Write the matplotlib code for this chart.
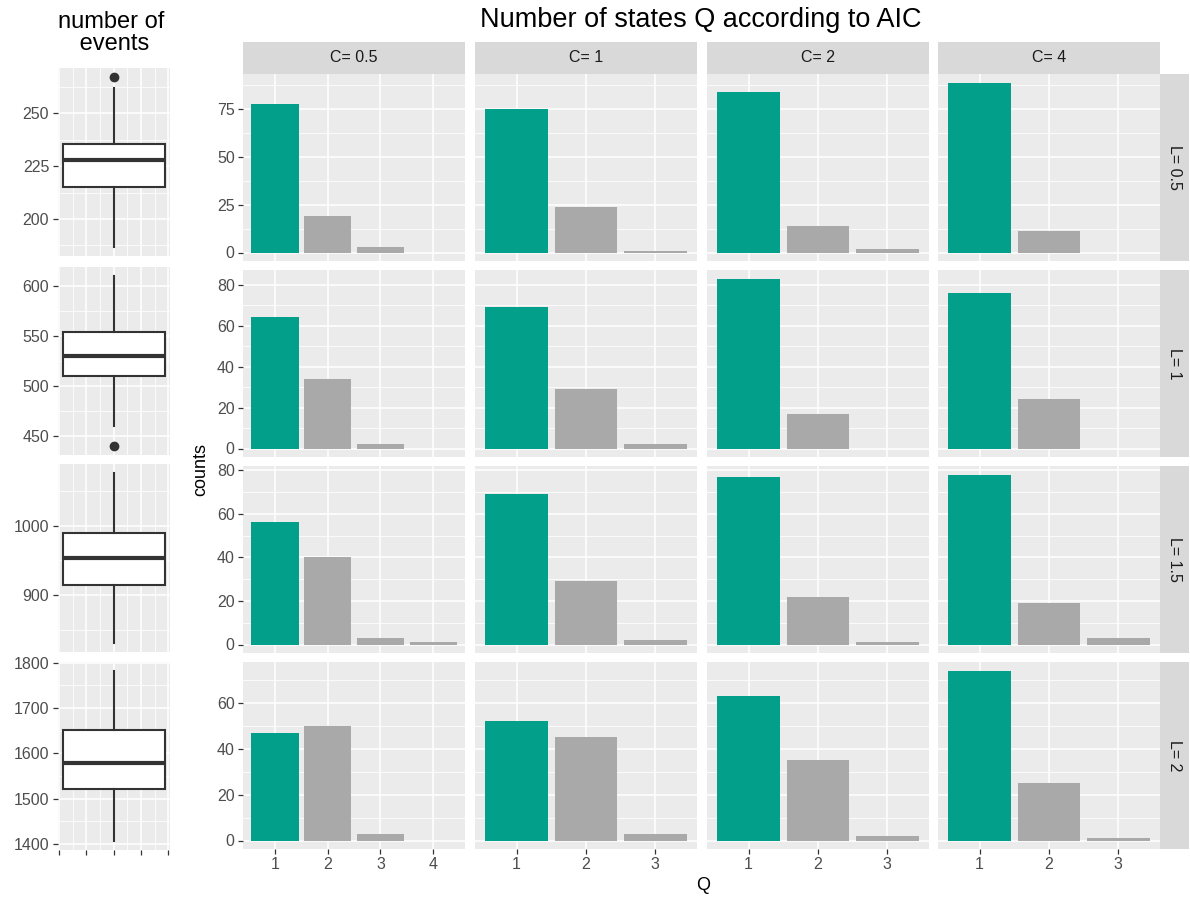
"""
AIC state counts per (L, C) facet + boxplots of number of events per L
"""
import numpy as np
import matplotlib
matplotlib.use('Agg')
import matplotlib.pyplot as plt
from matplotlib.ticker import FixedLocator, NullFormatter

plt.rcParams['font.family'] = ['Liberation Sans', 'DejaVu Sans']

# data
L_labels = ['L= 0.5', 'L= 1', 'L= 1.5', 'L= 2']
C_labels = ['C= 0.5', 'C= 1', 'C= 2', 'C= 4']
Q_levels = [[1, 2, 3, 4], [1, 2, 3], [1, 2, 3], [1, 2, 3]]

counts_L05 = [[78, 19, 3, 0], [75, 24, 1], [84, 14, 2], [89, 11, 0]]
counts_L1 = [[64, 34, 2, 0], [69, 29, 2], [83, 17, 0], [76, 24, 0]]
counts_L15 = [[56, 40, 3, 1], [69, 29, 2], [77, 22, 1], [78, 19, 3]]
counts_L2 = [[47, 50, 3, 0], [52, 45, 3], [63, 35, 2], [74, 25, 1]]
counts = [counts_L05, counts_L1, counts_L15, counts_L2]

# boxplot summaries of number of events, per L
ev_whislo = [186.5, 460, 830, 1405]
ev_q1 = [215, 510, 914.5, 1520]
ev_med = [228, 530, 953, 1579]
ev_q3 = [235.6, 553.7, 989, 1651]
ev_whishi = [262, 611, 1077, 1783]
ev_fliers = [[267.5], [439], [], []]
ev_ticks = [[200, 225, 250], [450, 500, 550, 600], [900, 1000],
            [1400, 1500, 1600, 1700, 1800]]
count_ticks = [[0, 25, 50, 75], [0, 20, 40, 60, 80], [0, 20, 40, 60, 80],
               [0, 20, 40, 60]]

TEAL = '#02A08A'
GREY = '#A9A9A9'
PANEL = '#EBEBEB'
STRIP = '#D9D9D9'
TICK_FS = 11.5

W, H = 1190, 899
fig = plt.figure(figsize=(W / 100, H / 100), dpi=100)


def add_ax(x0, y0, x1, y1):
    return fig.add_axes([x0 / W, 1 - y1 / H, (x1 - x0) / W, (y1 - y0) / H])


def style(ax):
    ax.set_facecolor(PANEL)
    for s in ax.spines.values():
        s.set_visible(False)
    ax.set_axisbelow(True)
    ax.grid(True, which='major', color='white', linewidth=1.1)
    ax.grid(True, which='minor', color='white', linewidth=0.55)
    ax.tick_params(which='major', length=3.5, width=0.9, color='#333333',
                   labelcolor='#4D4D4D', labelsize=TICK_FS, pad=2.5)
    ax.tick_params(which='minor', length=0)


def midpoints(t):
    t = np.asarray(t, float)
    step = t[1] - t[0]
    return list(np.arange(t[0] - step / 2, t[-1] + step, step))


def expand(lo, hi):
    r = hi - lo
    return lo - 0.05 * r, hi + 0.05 * r


col_x = [243, 475, 707, 938]
col_w = 222
row_y = [74, 270, 466, 662]
row_h = 187
box_rows = [(68, 256), (267, 455), (464, 652), (662, 850)]

# boxplots
for i in range(4):
    ax = add_ax(57.5, box_rows[i][0], 170, box_rows[i][1])
    style(ax)
    stats = [dict(med=ev_med[i], q1=ev_q1[i], q3=ev_q3[i], whislo=ev_whislo[i],
                  whishi=ev_whishi[i], fliers=ev_fliers[i])]
    ax.bxp(stats, positions=[0], widths=0.75, showcaps=False, patch_artist=True,
           boxprops=dict(facecolor='white', edgecolor='#333333', linewidth=1.5),
           medianprops=dict(color='#333333', linewidth=3),
           whiskerprops=dict(color='#333333', linewidth=1.5),
           flierprops=dict(marker='o', markerfacecolor='#333333', markeredgecolor='#333333',
                           markersize=6))
    vals = [ev_whislo[i], ev_whishi[i]] + ev_fliers[i]
    ax.set_ylim(*expand(min(vals), max(vals)))
    ax.set_xlim(-0.4125, 0.4125)
    ax.yaxis.set_major_locator(FixedLocator(ev_ticks[i]))
    ax.yaxis.set_minor_locator(FixedLocator(midpoints(ev_ticks[i])))
    ax.xaxis.set_major_locator(FixedLocator([-0.4, -0.2, 0, 0.2, 0.4]))
    ax.xaxis.set_minor_locator(FixedLocator([-0.3, -0.1, 0.1, 0.3]))
    ax.xaxis.set_major_formatter(NullFormatter())
    if i < 3:
        ax.tick_params(axis='x', which='major', length=0)

# facet grid of bar charts
for i in range(4):
    ymax = max(max(c) for c in counts[i])
    for j in range(4):
        ax = add_ax(col_x[j], row_y[i], col_x[j] + col_w, row_y[i] + row_h)
        style(ax)
        q = Q_levels[j]
        vals = counts[i][j]
        pos = np.arange(1, len(q) + 1)
        for p, v in zip(pos, vals):
            if v > 0:
                ax.bar(p, v, width=0.9, color=TEAL if p == 1 else GREY, linewidth=0)
        ax.set_xlim(0.4, len(q) + 0.6)
        ax.set_ylim(*expand(0, ymax))
        ax.xaxis.set_major_locator(FixedLocator(pos))
        ax.yaxis.set_major_locator(FixedLocator(count_ticks[i]))
        ax.yaxis.set_minor_locator(FixedLocator(midpoints(count_ticks[i])))
        if i == 3:
            ax.set_xticklabels([str(v) for v in q])
        else:
            ax.tick_params(axis='x', which='major', length=0, labelbottom=False)
        if j > 0:
            ax.tick_params(axis='y', which='major', length=0, labelleft=False)

# strips
for j in range(4):
    s = add_ax(col_x[j], 42, col_x[j] + col_w, 74)
    s.set_facecolor(STRIP)
    s.set_xticks([]); s.set_yticks([])
    for sp in s.spines.values():
        sp.set_visible(False)
    s.text(0.5, 0.5, C_labels[j], ha='center', va='center', fontsize=TICK_FS,
           color='#1A1A1A', transform=s.transAxes)
for i in range(4):
    s = add_ax(1160, row_y[i], 1189, row_y[i] + row_h)
    s.set_facecolor(STRIP)
    s.set_xticks([]); s.set_yticks([])
    for sp in s.spines.values():
        sp.set_visible(False)
    s.text(0.5, 0.5, L_labels[i], ha='center', va='center', fontsize=TICK_FS,
           rotation=-90, color='#1A1A1A', transform=s.transAxes)

# titles
fig.text(111 / W, 1 - 33 / H, 'number of\n events', ha='center', va='center',
         fontsize=17, linespacing=1.0)
fig.text(701 / W, 1 - 20 / H, 'Number of states Q according to AIC', ha='center',
         va='center', fontsize=19.5)
fig.text(201 / W, 1 - 470 / H, 'counts', ha='center', va='center', rotation=90,
         fontsize=13)
fig.text(703 / W, 1 - 886 / H, 'Q', ha='center', va='center', fontsize=13)

fig.savefig('out.png', dpi=100)
